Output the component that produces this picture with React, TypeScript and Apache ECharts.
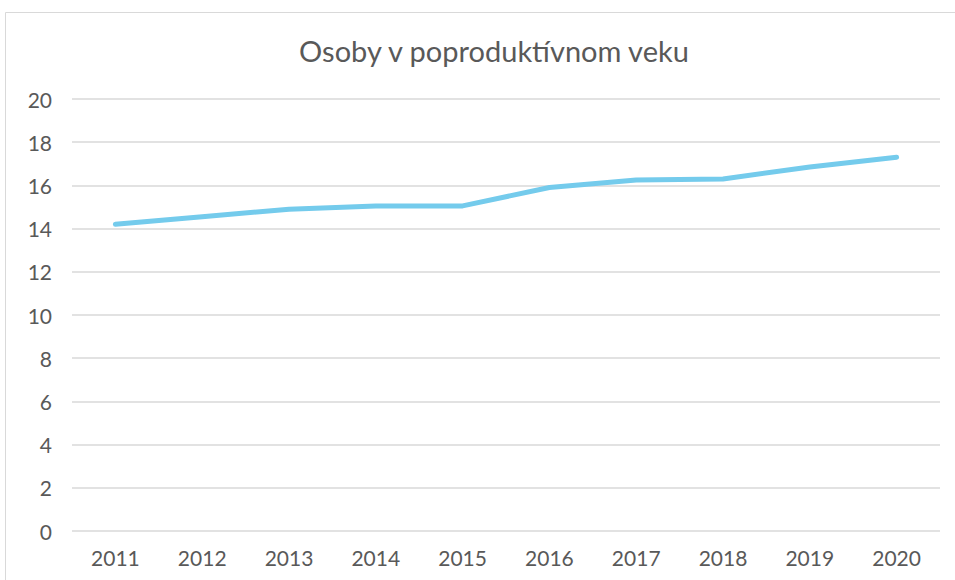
import React, { useEffect, useRef } from "react";
import * as echarts from "echarts";

const titleText = "Osoby v poproduktívnom veku";
const years = ["2011", "2012", "2013", "2014", "2015", "2016", "2017", "2018", "2019", "2020"];
const values = [14.2, 14.55, 14.9, 15.05, 15.05, 15.9, 16.25, 16.3, 16.85, 17.3];

export default function App() {
  const ref = useRef<HTMLDivElement>(null);
  useEffect(() => {
    document.body.style.margin = "0";
    const chart = echarts.init(ref.current!, null, { renderer: "svg" });
    chart.setOption({
      animation: false,
      backgroundColor: "#ffffff",
      title: {
        text: titleText,
        left: 489,
        textAlign: "center",
        top: 31,
        textStyle: { fontFamily: "Lato", fontSize: 29, fontWeight: "normal", color: "#595959" },
      },
      graphic: [
        {
          type: "rect",
          shape: { x: 5.5, y: 12.5, width: 1000, height: 1000 },
          style: { fill: "none", stroke: "#d9d9d9", lineWidth: 1 },
          silent: true,
        },
      ],
      grid: { left: 72, right: 15, top: 99, bottom: 49, containLabel: false },
      xAxis: {
        type: "category",
        data: years,
        boundaryGap: true,
        axisLine: { show: false },
        axisTick: { show: false },
        axisLabel: { fontFamily: "Lato", fontSize: 21, color: "#595959", margin: 16 },
      },
      yAxis: {
        type: "value",
        min: 0,
        max: 20,
        interval: 2,
        axisLine: { show: false },
        axisTick: { show: false },
        splitLine: { lineStyle: { color: "#d9d9d9", width: 1.5 } },
        axisLabel: { fontFamily: "Lato", fontSize: 21, color: "#595959", margin: 20 },
      },
      series: [
        {
          type: "line",
          data: values,
          showSymbol: false,
          symbol: "none",
          lineStyle: { color: "#74CBEC", width: 5, cap: "round", join: "round" },
        },
      ],
    });
    return () => chart.dispose();
  }, []);
  return <div ref={ref} style={{ width: 955, height: 580 }} />;
}
